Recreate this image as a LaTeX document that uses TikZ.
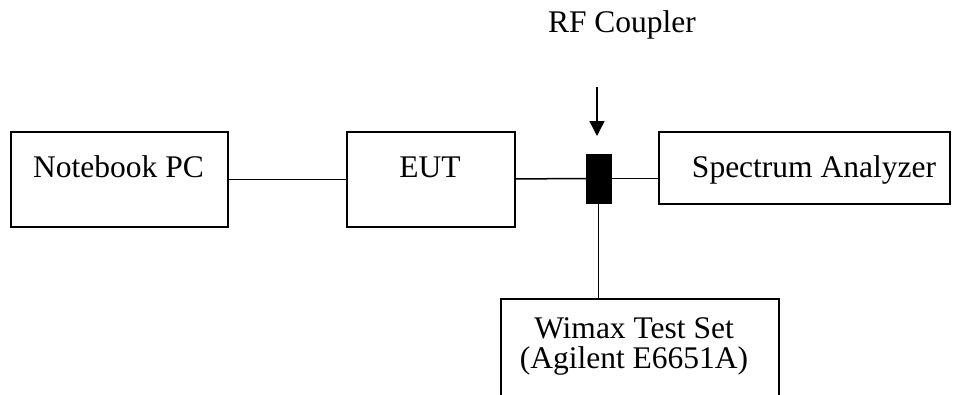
\documentclass[tikz,border=0pt]{standalone}
\usepackage{fontspec}
\setmainfont{Liberation Serif}
\usetikzlibrary{arrows.meta}
\begin{document}
\begin{tikzpicture}[x=1pt,y=-1pt,
  boxst/.style={draw,line width=1.6pt,inner sep=0pt,anchor=north west},
  lbl/.style={font=\fontsize{31.5}{30}\selectfont,inner sep=0pt},
  wire/.style={line width=1.5pt}]
\useasboundingbox (0,0) rectangle (959,394);
\clip (0,0) rectangle (959,394);
% boxes
\node[boxst,minimum width=217pt,minimum height=95pt] (nb) at (10,131) {};
\node[boxst,minimum width=168pt,minimum height=95pt] (eut) at (346,131) {};
\node[boxst,minimum width=291pt,minimum height=72pt] (sa) at (658,131) {};
\node[boxst,minimum width=278pt,minimum height=140pt] (wt) at (500,298) {};
\node[draw,fill=black,line width=0.5pt,inner sep=0pt,minimum width=25pt,minimum height=49pt] (cp) at (598.5,178.5) {};
% texts
\node[lbl,anchor=base] (nbt) at (118.5,177) {Notebook PC};
\node[lbl,anchor=base] (eutt) at (430,177) {EUT};
\node[lbl,anchor=base] (sat) at (814,177) {Spectrum Analyzer};
\node[lbl,align=center] (wtt) at (634,346) {Wimax Test Set\\(Agilent E6651A)};
\node[lbl,anchor=base] (rf) at (622,32) {RF Coupler};
% connectors
\draw[wire] (nb) -- (eut);
\draw[wire] (eut) -- (cp);
\draw[wire] (cp.east) -- (cp.east -| sa.west);
\draw[wire] (cp.south) -- (cp.south |- wt.north);
\coordinate (arrtop) at (597,87);
\coordinate (arrtip) at (597,136);
\draw[wire,-{Triangle[width=15pt,length=15pt]}] (arrtop) -- (arrtip);
\end{tikzpicture}
\end{document}
